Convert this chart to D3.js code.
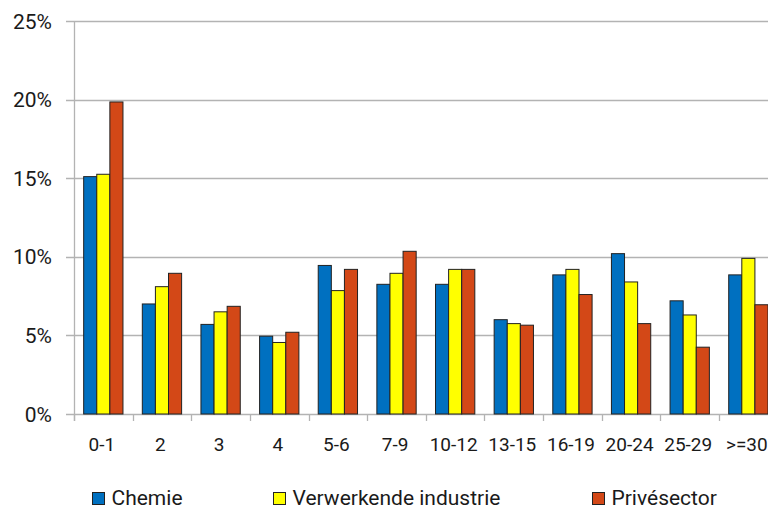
<!DOCTYPE html>
<html><head><meta charset="utf-8">
<script src="https://cdn.jsdelivr.net/npm/d3@7"></script>
<style>
html,body{margin:0;padding:0;background:#fff;overflow:hidden}
text{font-family:Roboto,"Liberation Sans",sans-serif;fill:#1a1a1a}
</style></head>
<body>
<svg id="c" width="768" height="509"></svg>
<script>
const categories = ["0-1","2","3","4","5-6","7-9","10-12","13-15","16-19","20-24","25-29",">=30"];
const chemie = [15.1, 7.0, 5.7, 4.95, 9.45, 8.25, 8.25, 6.0, 8.85, 10.2, 7.2, 8.85];
const verwerkende = [15.25, 8.1, 6.5, 4.55, 7.85, 8.95, 9.2, 5.75, 9.2, 8.4, 6.3, 9.9];
const privesector = [19.85, 8.95, 6.85, 5.2, 9.2, 10.35, 9.2, 5.65, 7.6, 5.75, 4.25, 6.95];
const seriesNames = ["Chemie","Verwerkende industrie","Privésector"];
const yTicks = [0,5,10,15,20,25];

const colors = ["#0070C0","#FFFF00","#D34817"];
const seriesData = [chemie, verwerkende, privesector];

const svg = d3.select("#c");
const mLeft = 74, mTop = 21, mBottom = 414;
const band = 58.64;
const mRight = mLeft + band*categories.length;

const x = d3.scaleBand().domain(categories).range([mLeft, mRight]).paddingInner(0).paddingOuter(0);
const y = d3.scaleLinear().domain([0,25]).range([mBottom, mTop]);
const groupW = 39.3;
const xs = d3.scaleBand().domain(seriesNames).range([0, groupW]).padding(0);

// gridlines
svg.append("g").selectAll("line").data(yTicks).join("line")
  .attr("x1", mLeft-8).attr("x2", 768)
  .attr("y1", d=>Math.round(y(d))+0.5).attr("y2", d=>Math.round(y(d))+0.5)
  .attr("stroke", "#b3b3b3").attr("stroke-width", 1.3);

// y axis line
svg.append("line").attr("x1", mLeft+0.5).attr("x2", mLeft+0.5)
  .attr("y1", mTop).attr("y2", mBottom+7).attr("stroke","#b3b3b3").attr("stroke-width",1.3);

// x ticks
svg.append("g").selectAll("line").data(d3.range(categories.length+1)).join("line")
  .attr("x1", i=>Math.round(mLeft+i*band)+0.5).attr("x2", i=>Math.round(mLeft+i*band)+0.5)
  .attr("y1", mBottom).attr("y2", mBottom+7).attr("stroke","#b3b3b3").attr("stroke-width",1.3);

// y labels
svg.append("g").selectAll("text").data(yTicks).join("text")
  .attr("x", 52).attr("y", d=>y(d)).attr("dy","0.36em")
  .attr("text-anchor","end").attr("font-size","21px")
  .text(d=>d+"%");

// bars
seriesData.forEach((vals, si) => {
  svg.append("g").selectAll("rect").data(vals).join("rect")
    .attr("x", (d,i)=> x(categories[i]) + (band-groupW)/2 + xs(seriesNames[si]))
    .attr("y", d=>y(d))
    .attr("width", xs.bandwidth())
    .attr("height", d=>mBottom - y(d))
    .attr("fill", colors[si])
    .attr("stroke", "#222").attr("stroke-width", 1);
});

// x labels
svg.append("g").selectAll("text").data(categories).join("text")
  .attr("x", d=>x(d)+band/2 - 1.5).attr("y", 450.5)
  .attr("text-anchor","middle").attr("font-size","19px")
  .text(d=>d);

// legend
const legendX = [92, 273, 592];
seriesNames.forEach((n,i)=>{
  svg.append("rect").attr("x", legendX[i]+0.5).attr("y", 492.5).attr("width", 12).attr("height", 12)
    .attr("fill", colors[i]).attr("stroke","#222").attr("stroke-width",1);
  svg.append("text").attr("x", legendX[i]+19.5).attr("y", 505).attr("font-size","21px").text(n);
});
</script>
</body></html>
